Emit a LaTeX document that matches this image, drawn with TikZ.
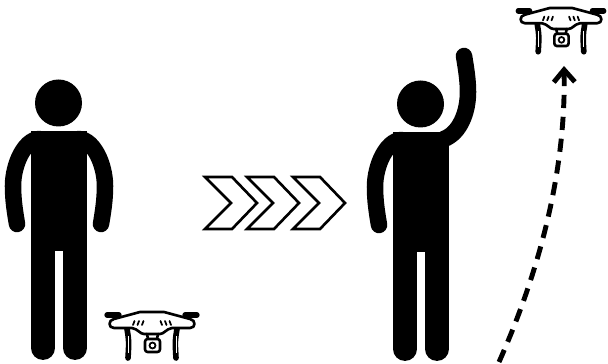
\documentclass[tikz,border=0pt]{standalone}
\usetikzlibrary{arrows.meta}
\tikzset{
    limb/.style={line width=9.4pt, line cap=round},
    leg/.style={line width=13.6pt, line cap=round},
    thin part/.style={line width=1.5pt, line cap=round, line join=round},
    chevron/.style={line width=1.5pt, line join=miter, fill=white},
    pics/person/.style={code={
        \fill (58.5,103) circle (23.5);
        \fill (31,131) rectangle (87,251);
        \draw[leg] (43,240) -- (43,348);
        \draw[leg] (75,240) -- (75,348);
        \draw[limb] (39,139) .. controls (24,140) and (13,165) .. (13,186) .. controls (13,200) and (15,212) .. (17,224);
    }},
    pics/drone/.style={code={
        \foreach \s in {-1,1} {
            % rotors
            \draw[line width=3pt, line cap=round] (\s*45,-18) -- (\s*33,-18);
            \draw[thin part] (\s*38,-18) -- (\s*38,-13);
            % legs
            \draw[line width=3.2pt, line cap=round] (\s*25,-4) .. controls (\s*23,8) .. (\s*24,25);
            \draw[white, line width=.5pt] (\s*24,3) -- (\s*24,20);
        }
        % body
        \draw[thin part, fill=white] (-38,-14) -- (-12,-21) -- (12,-21) -- (38,-14) .. controls (44,-13) and (44,-5) .. (38,-5) -- (20,-5) .. controls (14,-4) and (12,1) .. (8,1) -- (-8,1) .. controls (-12,1) and (-14,-4) .. (-20,-5) -- (-38,-5) .. controls (-44,-5) and (-44,-13) .. (-38,-14);
        % vents
        \foreach \s in {-1,1} {
            \foreach \d in {0,4.5,9} {
                \draw[line width=1pt, line cap=round] (\s*10+\s*\d,-8) -- (\s*8.5+\s*\d,-12);
            }
        }
        % camera
        \draw[thin part] (-5,1) -- (-4,6) (6,1) -- (5,6);
        \draw[thin part, fill=white, rounded corners=1.5pt] (-7,6) rectangle (8,19);
        \draw[line width=1pt] (.5,12.5) circle (3);
    }},
}
\begin{document}
\begin{tikzpicture}[x=0.02cm, y=-0.02cm]
    \useasboundingbox[fill=white] (0,0) rectangle (608,364);

    % standing person
    \pic at (0,0) {person};
    \draw[limb] (79,139) .. controls (94,140) and (105,165) .. (105,186) .. controls (105,200) and (103,212) .. (101,224);

    % person with the raised arm
    \pic at (362,1) {person};
    \draw[limb] (444,139) .. controls (460,133) and (468,112) .. (468,92) .. controls (468,80) and (466,68) .. (464,56);

    % chevrons
    \foreach \x in {0,42,88} {
        \draw[chevron] (205+\x,177) -- (232+\x,177) -- (257+\x,203) -- (232+\x,229) -- (205+\x,229) -- (231+\x,203) -- cycle;
    }

    % drones
    \pic at (152,333) {drone};
    \pic[scale=.95] at (561,28) {drone};

    % flight path
    \coordinate (start) at (499,362);
    \coordinate (goal) at (564,66);
    \draw[line width=2.8pt, dash pattern=on 7.5pt off 5pt, -{Straight Barb[length=7pt, width=12pt, line width=2.8pt]}] (start) .. controls (540,270) and (566,170) .. (goal);
\end{tikzpicture}
\end{document}
